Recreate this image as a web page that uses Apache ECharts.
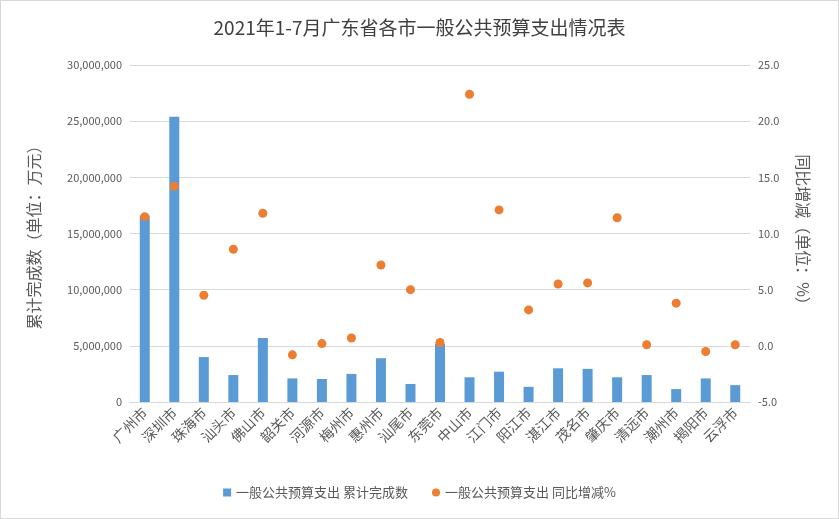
<!DOCTYPE html><html><head><meta charset="utf-8">
<script src="https://cdn.jsdelivr.net/npm/echarts@6/dist/echarts.min.js"></script>
<style>html,body{margin:0;padding:0;}#c{width:837px;height:517px;border:1px solid #d9d9d9;}</style></head><body>
<div id="c"></div>
<script>
const categories=['广州市','深圳市','珠海市','汕头市','佛山市','韶关市','河源市','梅州市','惠州市','汕尾市','东莞市','中山市','江门市','阳江市','湛江市','茂名市','肇庆市','清远市','潮州市','揭阳市','云浮市'];
const cumulative=[16600000,25400000,4000000,2400000,5700000,2100000,2050000,2500000,3900000,1600000,5200000,2200000,2700000,1350000,3000000,2950000,2200000,2400000,1150000,2100000,1500000];
const growth=[11.5,14.2,4.5,8.6,11.8,-0.8,0.2,0.7,7.2,5.0,0.3,22.4,12.1,3.2,5.5,5.6,11.4,0.1,3.8,-0.5,0.1];
const font='"Microsoft YaHei","Noto Sans CJK SC",sans-serif';
const chart=echarts.init(document.getElementById('c'));
chart.setOption({
 title:{text:'2021年1-7月广东省各市一般公共预算支出情况表',left:'center',top:12,textStyle:{fontFamily:font,fontSize:19,fontWeight:'normal',color:'#404040'}},
 grid:{left:129,right:88,top:64,bottom:116},
 legend:{bottom:14,itemGap:24,textStyle:{fontFamily:font,fontSize:13,color:'#595959'},data:[{name:'一般公共预算支出 累计完成数',icon:'rect'},{name:'一般公共预算支出 同比增减%',icon:'circle'}],itemWidth:8,itemHeight:8},
 xAxis:{type:'category',data:categories,axisTick:{show:false},axisLine:{lineStyle:{color:'#d9d9d9'}},axisLabel:{rotate:45,interval:0,fontFamily:font,fontSize:14,color:'#595959'}},
 yAxis:[{type:'value',min:0,max:30000000,interval:5000000,name:'累计完成数（单位：万元）',nameLocation:'middle',nameGap:88,nameTextStyle:{fontFamily:font,fontSize:16,color:'#595959'},axisLabel:{fontFamily:font,fontSize:11,color:'#595959',formatter:v=>v.toLocaleString('en-US')},splitLine:{lineStyle:{color:'#d9d9d9'}}},
 {type:'value',min:-5,max:25,interval:5,name:'同比增减（单位：%）',nameLocation:'middle',nameGap:45,nameRotate:-90,nameTextStyle:{fontFamily:font,fontSize:16,color:'#595959'},axisLabel:{fontFamily:font,fontSize:11,color:'#595959',formatter:v=>v.toFixed(1)},splitLine:{show:false}}],
 series:[{name:'一般公共预算支出 累计完成数',type:'bar',data:cumulative,barWidth:10,itemStyle:{color:'#5b9bd5'}},
 {name:'一般公共预算支出 同比增减%',type:'scatter',yAxisIndex:1,data:growth,symbolSize:9,itemStyle:{color:'#ed7d31',opacity:1}}]
});
</script></body></html>
